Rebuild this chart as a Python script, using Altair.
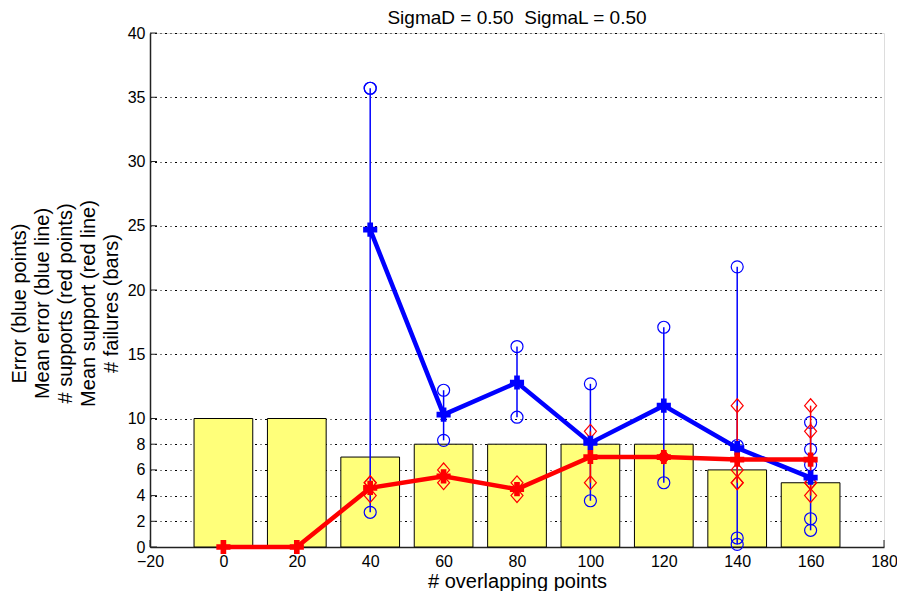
import altair as alt
import pandas as pd

W, H = 734, 514
FONT = "Liberation Sans"

# ---- data ----
positions = [0, 20, 40, 60, 80, 100, 120, 140, 160]
failures = [10, 10, 7, 8, 8, 8, 8, 6, 5]
mean_support = [0, 0, 4.6, 5.5, 4.5, 7.0, 7.0, 6.8, 6.8]
mean_error_pos = [40, 60, 80, 100, 120, 140, 160]
mean_error = [24.7, 10.3, 12.8, 8.1, 11.0, 7.7, 5.4]
error_pos = [40, 40, 40, 60, 60, 80, 80, 100, 100, 120, 120,
             140, 140, 140, 140, 160, 160, 160, 160, 160]
error_val = [35.7, 35.7, 2.7, 12.2, 8.3, 15.6, 10.1, 12.7, 3.6, 17.1, 5.0,
             21.8, 7.9, 0.7, 0.2, 9.7, 7.6, 6.4, 2.2, 1.3]
support_pos = [40, 40, 40, 60, 60, 80, 80, 100, 100, 120, 120,
               140, 140, 140, 140, 160, 160, 160, 160, 160]
support_val = [5, 5, 4, 6, 5, 5, 4, 9, 5, 7, 7,
               11, 6, 5, 5, 11, 9, 5, 5, 4]
x_ticks = [-20, 0, 20, 40, 60, 80, 100, 120, 140, 160, 180]
y_ticks = [0, 2, 4, 6, 8, 10, 15, 20, 25, 30, 35, 40]
y_title = ["Error (blue points)", "Mean error (blue line)",
           "# supports (red points)", "Mean support (red line)",
           "# failures (bars)"]
x_title = "# overlapping points"
title_text = "SigmaD = 0.50\u00a0 SigmaL = 0.50"

bars_df = pd.DataFrame({"pos": positions, "failures": failures})
msup_df = pd.DataFrame({"pos": positions, "val": mean_support})
merr_df = pd.DataFrame({"pos": mean_error_pos, "val": mean_error})
err_df = pd.DataFrame({"pos": error_pos, "val": error_val})
sup_df = pd.DataFrame({"pos": support_pos, "val": support_val})

xs = alt.Scale(domain=[-20, 180], nice=False, zero=False)
ys = alt.Scale(domain=[0, 40], nice=False, zero=False)

AX = "#222222"
x_axis = alt.Axis(values=x_ticks, grid=False, ticks=False, tickSize=0,
                  labelPadding=6, labelFontSize=16, labelFont=FONT,
                  labelColor="black", labelFlush=False, labelOverlap=False,
                  format="d", domainColor=AX, domainWidth=1.5,
                  title=x_title, titleFont=FONT, titleFontSize=20,
                  titleFontWeight="normal", titleColor="black",
                  titleBaseline="alphabetic", titleY=40)
y_axis = alt.Axis(values=y_ticks, grid=True, gridDash=[1, 3.5, 2, 3.5],
                  gridColor="black", gridWidth=1, ticks=False, tickSize=0,
                  labelPadding=5, labelFontSize=16, labelFont=FONT,
                  labelColor="black", labelFlush=False, labelOverlap=False,
                  domainColor=AX, domainWidth=1.5,
                  title=y_title, titleFont=FONT, titleFontSize=20,
                  titleFontWeight="normal", titleColor="black",
                  titleAngle=270, titleAlign="center", titleBaseline="middle",
                  titleX=-131, titleY=270, titleLineHeight=23)


def X(f):
    return alt.X(f, scale=xs, axis=x_axis)


def Y(f):
    return alt.Y(f, scale=ys, axis=y_axis)


ytick_layer = alt.Chart(pd.DataFrame({"v": y_ticks})).mark_rule(
    color=AX, strokeWidth=1).encode(y=Y("v:Q"), x=alt.value(0), x2=alt.value(7))
xtick_layer = alt.Chart(pd.DataFrame({"v": x_ticks})).mark_rule(
    color=AX, strokeWidth=1).encode(x=X("v:Q"), y=alt.value(H), y2=alt.value(H - 7))

bars = alt.Chart(bars_df).transform_calculate(
    x0="datum.pos - 8", x1="datum.pos + 8"
).mark_bar(fill="#ffff7a", stroke="black", strokeWidth=1, opacity=1).encode(
    x=X("x0:Q"), x2="x1:Q", y=Y("failures:Q"), y2=alt.datum(0))

err_stem = alt.Chart(err_df).transform_aggregate(
    lo="min(val)", hi="max(val)", groupby=["pos"]
).mark_rule(color="blue", strokeWidth=1.5).encode(x=X("pos:Q"), y=Y("lo:Q"), y2="hi:Q")
err_pts = alt.Chart(err_df).mark_point(
    shape="circle", filled=False, color="blue", size=144, strokeWidth=1.2, opacity=1
).encode(x=X("pos:Q"), y=Y("val:Q"))

sup_stem = alt.Chart(sup_df).transform_aggregate(
    lo="min(val)", hi="max(val)", groupby=["pos"]
).mark_rule(color="red", strokeWidth=1.5).encode(x=X("pos:Q"), y=Y("lo:Q"), y2="hi:Q")
sup_pts = alt.Chart(sup_df).mark_point(
    shape="M0,-1.15L1,0L0,1.15L-1,0Z", filled=False, color="red", size=144,
    strokeWidth=1.2, opacity=1
).encode(x=X("pos:Q"), y=Y("val:Q"))

merr_line = alt.Chart(merr_df).mark_line(color="blue", strokeWidth=4.5).encode(
    x=X("pos:Q"), y=Y("val:Q"))
merr_pts = alt.Chart(merr_df).mark_point(
    shape="cross", filled=True, color="blue", size=200, opacity=1
).encode(x=X("pos:Q"), y=Y("val:Q"))

msup_line = alt.Chart(msup_df).mark_line(color="red", strokeWidth=4.5).encode(
    x=X("pos:Q"), y=Y("val:Q"))
msup_pts = alt.Chart(msup_df).mark_point(
    shape="cross", filled=True, color="red", size=200, opacity=1
).encode(x=X("pos:Q"), y=Y("val:Q"))

chart = alt.layer(
    ytick_layer, xtick_layer, bars, err_stem, err_pts, sup_stem, sup_pts,
    merr_line, merr_pts, msup_line, msup_pts
).properties(
    width=W, height=H,
    title=alt.TitleParams(title_text, font=FONT, fontSize=19, fontWeight="normal",
                          color="black", anchor="middle", offset=-3),
    autosize=alt.AutoSizeParams(type="none"),
    padding={"left": 142, "top": 25, "right": 13, "bottom": 44},
).configure_view(stroke=None).configure(background="white")

chart.save("out.html", embed_options={"renderer": "svg", "actions": False})
